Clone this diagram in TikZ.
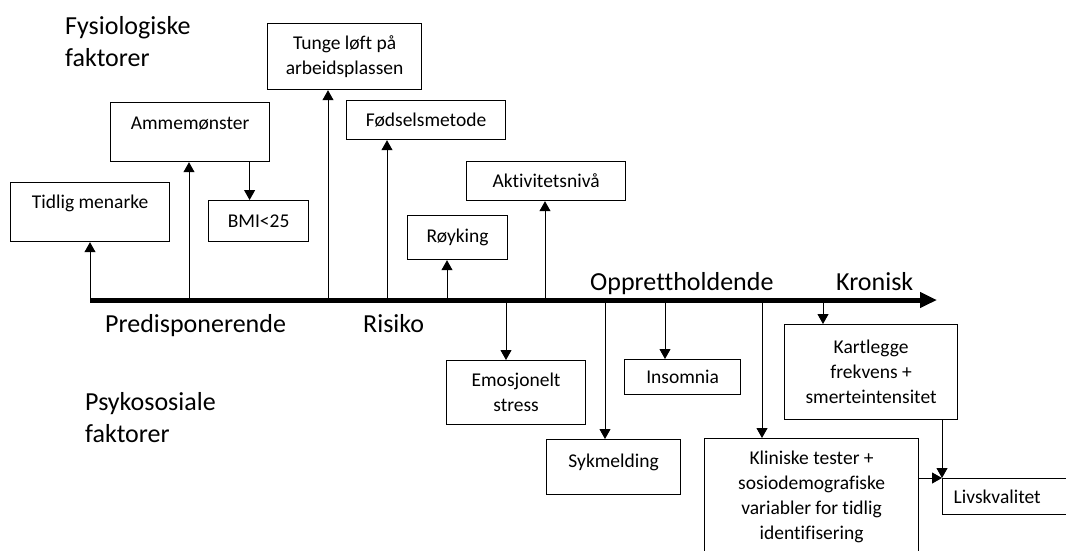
\documentclass[tikz,border=0pt]{standalone}
\usepackage{fontspec}
\setmainfont{Carlito}[RawFeature=-liga]
\usetikzlibrary{arrows.meta}
\newcommand{\boxfont}{\fontsize{19.5}{25}\selectfont}
\newcommand{\lblfont}{\fontsize{26}{32}\selectfont}
\tikzset{
  fbox/.style={draw, line width=1.2pt, fill=white, align=center, font=\boxfont, inner sep=0pt, anchor=north west},
  topbox/.style={fbox, text height=13pt},
  lbl/.style={font=\lblfont, align=left, inner sep=0pt},
  arr/.style={-{Triangle[length=10pt,width=11pt]}, line width=1pt},
  axis/.style={line width=5pt, -{Triangle[length=17pt,width=15pt]}}
}
\begin{document}
\begin{tikzpicture}[x=1pt,y=-1pt]
  \useasboundingbox (0,0) rectangle (1066,550);
  % tidslinje
  \coordinate (ax0) at (90,300);
  \coordinate (ax1) at (937,300);
  \draw[axis] (ax0) -- (ax1);
  \node[lbl, anchor=north west] (fys) at (65,16) {Fysiologiske\\faktorer};
  \node[lbl, anchor=north west] (psy) at (85,392) {Psykososiale\\faktorer};
  \node[lbl, anchor=base west] (pred) at (105,332) {Predisponerende};
  \node[lbl, anchor=base west] (risk) at (363,332) {Risiko};
  \node[lbl, anchor=base west] (oppr) at (590,290) {Opprettholdende};
  \node[lbl, anchor=base west] (kron) at (836,290) {Kronisk};
  % fysiologiske faktorer
  \node[topbox, minimum width=159, minimum height=59, text depth=20pt] (menarke) at (10,182) {Tidlig menarke};
  \node[topbox, minimum width=159, minimum height=59, text depth=18pt] (amme) at (110,102) {Ammemønster};
  \node[fbox, minimum width=100, minimum height=41] (bmi) at (208,200) {BMI<25};
  \node[fbox, minimum width=154, minimum height=66] (tunge) at (267,23) {Tunge løft på\\arbeidsplassen};
  \node[fbox, minimum width=159, minimum height=39] (fodsel) at (346,100) {Fødselsmetode};
  \node[fbox, minimum width=159, minimum height=39] (aktiv) at (466,161) {Aktivitetsnivå};
  \node[fbox, minimum width=100, minimum height=44] (royk) at (407,215) {Røyking};
  % psykososiale faktorer
  \node[fbox, minimum width=139, minimum height=64] (emo) at (446,360) {Emosjonelt\\stress};
  \node[topbox, minimum width=134, minimum height=55, text depth=12pt] (syk) at (546,439) {Sykmelding};
  \node[fbox, minimum width=116, minimum height=35] (insom) at (624,359) {Insomnia};
  \node[fbox, minimum width=173, minimum height=95] (kart) at (784,324) {Kartlegge\\frekvens +\\smerteintensitet};
  \node[fbox, minimum width=214, minimum height=116] (klin) at (704,438) {Kliniske tester +\\sosiodemografiske\\variabler for tidlig\\identifisering};
  \node[fbox, minimum width=140, minimum height=36, text width=128, align=left, inner xsep=11pt] (liv) at (942,478) {Livskvalitet};
  % piler fra tidslinjen
  \foreach \x/\n in {90/menarke, 189/amme, 328/tunge, 387/fodsel, 447/royk, 545/aktiv}
    \draw[arr] (\x,300) -- (\x,300 |- \n.south);
  \foreach \x/\n in {506/emo, 605/syk, 665/insom, 762/klin, 823/kart}
    \draw[arr] (\x,300) -- (\x,300 |- \n.north);
  \draw[arr] ([xshift=-9pt]bmi.north |- amme.south) -- ([xshift=-9pt]bmi.north);
  \draw[arr] (kart.south -| liv.north west) -- (liv.north west);
  \draw[arr] (klin.east |- liv.north west) -- (liv.north west);
\end{tikzpicture}
\end{document}
